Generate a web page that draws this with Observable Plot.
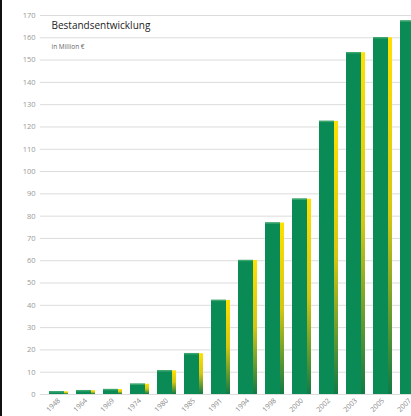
<!DOCTYPE html>
<html>
<head>
<meta charset="utf-8">
<script src="https://cdn.jsdelivr.net/npm/d3@7"></script>
<script src="https://cdn.jsdelivr.net/npm/@observablehq/plot@0.6"></script>
<style>
  html, body { margin: 0; padding: 0; background: #fff; overflow: hidden; width: 411px; height: 416px; }
  #edge { position: fixed; left: 0; top: 0; width: 2px; height: 416px; background: #111; z-index: 5; }
  #chart { position: absolute; left: 0; top: 0; width: 427px; height: 416px; }
  #chart svg { max-width: none !important; }
</style>
</head>
<body>
<div id="edge"></div>
<div id="chart"></div>
<script>
const years = ["1948","1964","1969","1974","1980","1985","1991","1994","1998","2000","2002","2003","2005","2007"];
const values = [1.2, 1.7, 2.2, 4.6, 10.6, 18.3, 42.2, 60.1, 76.9, 87.6, 122.5, 153.3, 160, 167.5];
const yTicks = d3.range(0, 171, 10);
const title = "Bestandsentwicklung";
const subtitle = "in Million €";

const data = years.map((year, i) => ({year, value: values[i]}));

const chart = Plot.plot({
  width: 427,
  height: 416,
  marginLeft: 40,
  marginRight: 0,
  marginTop: 15,
  marginBottom: 22,
  style: {fontFamily: "'Open Sans', sans-serif", background: "transparent", maxWidth: "none"},
  x: {domain: years, paddingInner: 0.3, paddingOuter: 0.257, align: 0.5, label: null},
  y: {domain: [0, 170], label: null},
  marks: [
    Plot.gridY(yTicks, {stroke: "#dcdcdc", strokeOpacity: 1}),
    Plot.barY(data, {x: "year", y: "value", fill: "url(#sideGrad)", insetLeft: 15}),
    Plot.barY(data, {x: "year", y: "value", fill: "#0a8a55", insetRight: 4}),
    Plot.tickY(data, {x: "year", y: "value", stroke: "#3aa56c", strokeWidth: 1.5, insetRight: 4}),
    Plot.axisY(yTicks, {tickSize: 0, tickPadding: 5, fontSize: 7.5, color: "#999", label: null}),
    Plot.axisX({tickSize: 0, tickPadding: 5, tickRotate: -45, fontSize: 7, color: "#888", label: null}),
    Plot.text([title], {frameAnchor: "top-left", dx: 11, dy: 6, lineAnchor: "top", fontSize: 10, fill: "#222"}),
    Plot.text([subtitle], {frameAnchor: "top-left", dx: 11, dy: 29, lineAnchor: "top", fontSize: 6.5, fill: "#666"})
  ]
});

chart.style.maxWidth = "none";
chart.insertAdjacentHTML("afterbegin",
  '<defs><linearGradient id="sideGrad" x1="0" y1="0" x2="0" y2="1">' +
  '<stop offset="0" stop-color="#ffe000"/>' +
  '<stop offset="0.5" stop-color="#d4c612"/>' +
  '<stop offset="1" stop-color="#107a45"/>' +
  '</linearGradient></defs>');

document.getElementById("chart").appendChild(chart);
</script>
</body>
</html>
